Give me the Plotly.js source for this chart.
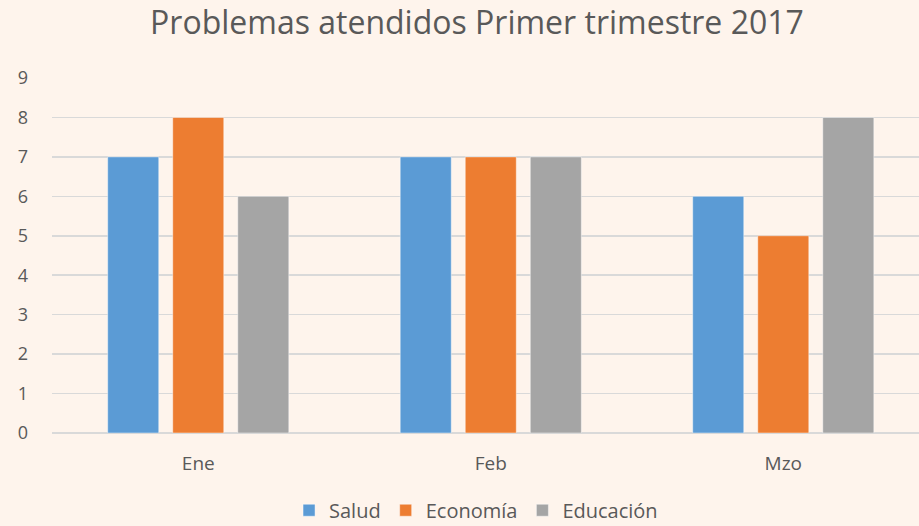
<!DOCTYPE html>
<html><head><meta charset="utf-8">
<script src="https://cdn.plot.ly/plotly-3.0.1.min.js"></script>
<style>html,body{margin:0;padding:0;background:#FEF4EC;}</style>
</head><body>
<div id="chart" style="width:919px;height:526px;"></div>
<script>
const categories = ["Ene", "Feb", "Mzo"];
const salud = [7, 7, 6];
const economia = [8, 7, 5];
const educacion = [6, 7, 8];
const seriesNames = ["Salud", "Economía", "Educación"];
const colors = ["#5B9BD5", "#ED7D31", "#A5A5A5"];

const allSeries = [salud, economia, educacion];
const traces = allSeries.map((vals, i) => ({
  type: "bar", x: categories, y: vals, name: seriesNames[i],
  marker: {color: colors[i], line: {color: "rgba(255,255,255,0.45)", width: 1}},
  hoverinfo: "x+y+name"
}));

const font = "'Open Sans', sans-serif";
const layout = {
  width: 919, height: 526,
  paper_bgcolor: "#FEF4EC", plot_bgcolor: "#FEF4EC",
  margin: {l: 52, r: 0, t: 78, b: 93},
  title: {text: "Problemas atendidos Primer trimestre 2017", x: 0.519, xanchor: "center", y: 0.956, yanchor: "middle",
    font: {family: font, size: 32, color: "#595959"}},
  barmode: "group", bargap: 0.333, bargroupgap: 0.215,
  xaxis: {range: [-0.5, 2.464], showgrid: false, zeroline: false, showline: false, ticks: "",
    tickfont: {family: font, size: 19, color: "#595959"}, ticklabelstandoff: 17, fixedrange: true, automargin: false},
  yaxis: {range: [0, 9], dtick: 1, showgrid: true, gridcolor: "#D9D9D9", gridwidth: 1.5,
    zeroline: true, zerolinecolor: "#D9D9D9", zerolinewidth: 1.5, showline: false, ticks: "",
    tickfont: {family: font, size: 18, color: "#595959"}, ticklabelstandoff: 23, fixedrange: true, automargin: false},
  showlegend: true,
  legend: {orientation: "h", x: 0.518, xanchor: "center", xref: "container", y: 0.03, yanchor: "middle", yref: "container",
    font: {family: font, size: 20, color: "#595959"}, itemwidth: 30, bgcolor: "rgba(0,0,0,0)"}
};
Plotly.newPlot("chart", traces, layout, {displayModeBar: false, staticPlot: true});
</script>
</body></html>
